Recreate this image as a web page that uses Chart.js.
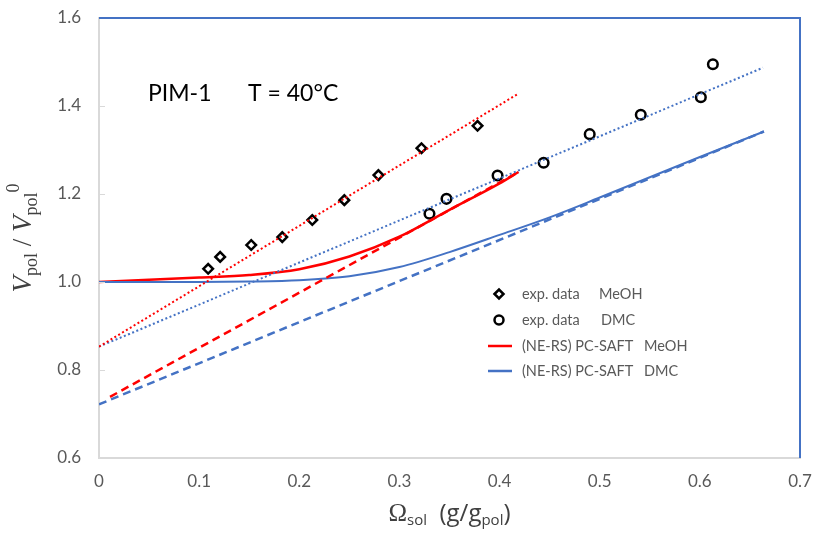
<!DOCTYPE html>
<html>
<head>
<meta charset="utf-8">
<script src="https://cdn.jsdelivr.net/npm/chart.js@4.4.0/dist/chart.umd.min.js"></script>
<style>
  body { margin: 0; background: #fff; }
  #wrap { width: 814px; height: 535px; position: relative; }
</style>
</head>
<body>
<div id="wrap"><canvas id="mycanvas"></canvas></div>
<script>
// experimental points
var meohX = [0.109, 0.121, 0.152, 0.183, 0.213, 0.245, 0.279, 0.322, 0.378];
var meohY = [1.030, 1.057, 1.084, 1.102, 1.141, 1.186, 1.243, 1.304, 1.355];
var dmcX = [0.330, 0.347, 0.398, 0.444, 0.490, 0.541, 0.601, 0.613];
var dmcY = [1.155, 1.189, 1.242, 1.271, 1.336, 1.380, 1.420, 1.495];

// PC-SAFT curves (solid)
var meohModelX = [0, 0.05, 0.1, 0.15, 0.2, 0.25, 0.3, 0.35, 0.4, 0.419];
var meohModelY = [1.0, 1.005, 1.010, 1.016, 1.029, 1.058, 1.103, 1.164, 1.224, 1.250];
var dmcModelX = [0, 0.1, 0.15, 0.2, 0.25, 0.3, 0.35, 0.4, 0.45, 0.5, 0.55, 0.6, 0.664];
var dmcModelY = [1.0, 1.0, 1.001, 1.004, 1.013, 1.034, 1.068, 1.107, 1.147, 1.192, 1.238, 1.284, 1.342];

// dashed lines
var meohDashX = [0.011, 0.419];
var meohDashY = [0.739, 1.250];
var dmcDashX = [0, 0.664];
var dmcDashY = [0.722, 1.342];

// dotted linear fits
var meohFitX = [0, 0.418];
var meohFitY = [0.853, 1.427];
var dmcFitX = [0, 0.663];
var dmcFitY = [0.853, 1.487];

var xTickLabels = ['0', '0.1', '0.2', '0.3', '0.4', '0.5', '0.6', '0.7'];
var yTickLabels = ['0.6', '0.8', '1.0', '1.2', '1.4', '1.6'];

var legendNames = ['exp. data', 'exp. data', '(NE-RS) PC-SAFT', '(NE-RS) PC-SAFT'];
var legendSolvents = ['MeOH', 'DMC', 'MeOH', 'DMC'];

var RED = '#ff0000';
var BLUE = '#4472c4';

function pts(xs, ys) {
    var out = [];
    for (var i in xs) {
        out.push({x: xs[i], y: ys[i]});
    }
    return out;
}

function drawRich(ctx, parts, x, y) {
    var total = 0;
    parts.forEach(function(p) { ctx.font = p[1]; total += ctx.measureText(p[0]).width; });
    var cx = x - total / 2;
    parts.forEach(function(p) {
        ctx.font = p[1];
        ctx.fillText(p[0], cx, y + p[2]);
        cx += ctx.measureText(p[0]).width;
    });
}

var extras = {
    id: 'extras',
    afterDraw: function(chart) {
        var ctx = chart.ctx;
        var a = chart.chartArea;
        var ys = chart.scales.y;
        ctx.save();

        // small inside ticks on the y axis
        ctx.strokeStyle = '#d9d9d9';
        ctx.lineWidth = 1;
        ys.ticks.forEach(function(t) {
            var py = Math.round(ys.getPixelForValue(t.value)) + 0.5;
            ctx.beginPath();
            ctx.moveTo(a.left, py);
            ctx.lineTo(a.left + 6, py);
            ctx.stroke();
        });

        // blue frame on top and right
        ctx.strokeStyle = BLUE;
        ctx.lineWidth = 2;
        ctx.beginPath();
        ctx.moveTo(a.left, a.top);
        ctx.lineTo(a.right, a.top);
        ctx.lineTo(a.right, a.bottom);
        ctx.stroke();

        // annotation
        ctx.fillStyle = '#000';
        ctx.font = '23px Lato';
        ctx.textBaseline = 'alphabetic';
        ctx.fillText('PIM-1', 148, 101);
        ctx.fillText('T = 40°C', 248, 101);

        // legend
        var rowsY = [294, 320, 346, 371];
        var solvX = [599, 601, 644, 644];
        ctx.font = '14.5px Lato';
        ctx.textBaseline = 'middle';
        for (var i = 0; i < 4; i++) {
            var yy = rowsY[i];
            ctx.lineWidth = 2.5;
            if (i === 0) {
                ctx.strokeStyle = '#000';
                ctx.beginPath();
                ctx.moveTo(494.5, yy); ctx.lineTo(499, yy - 4.5); ctx.lineTo(503.5, yy); ctx.lineTo(499, yy + 4.5); ctx.closePath();
                ctx.stroke();
            } else if (i === 1) {
                ctx.strokeStyle = '#000';
                ctx.beginPath();
                ctx.arc(499, yy, 4.5, 0, Math.PI * 2);
                ctx.stroke();
            } else {
                ctx.strokeStyle = i === 2 ? RED : BLUE;
                ctx.beginPath();
                ctx.moveTo(488, yy); ctx.lineTo(512, yy);
                ctx.stroke();
            }
            ctx.fillStyle = '#595959';
            ctx.fillText(legendNames[i], 522, yy);
            ctx.fillText(legendSolvents[i], solvX[i], yy);
        }

        // axis titles
        ctx.fillStyle = '#404040';
        ctx.textBaseline = 'alphabetic';
        drawRich(ctx, [
            ['\u03A9', '25px "Liberation Serif"', 0],
            ['sol', '15px "Open Sans"', 4],
            ['  (g/g', '24px "Open Sans"', 0],
            ['pol', '15px "Open Sans"', 4],
            [')', '24px "Open Sans"', 0]
        ], (a.left + a.right) / 2, 521);

        ctx.translate(31, (a.top + a.bottom) / 2);
        ctx.rotate(-Math.PI / 2);
        drawRich(ctx, [
            ['V', 'italic 27px "Liberation Serif"', 0],
            ['pol', '18px "Liberation Serif"', 6],
            [' / ', '27px "Liberation Serif"', 0],
            ['V', 'italic 27px "Liberation Serif"', 0],
            ['pol', '18px "Liberation Serif"', 6],
            ['0', '18px "Liberation Serif"', -12]
        ], 0, 0);
        ctx.restore();
    }
};

var lineDs = function(xs, ys, color, width, dash, tension) {
    return {
        data: pts(xs, ys),
        showLine: true,
        borderColor: color,
        borderWidth: width,
        borderDash: dash,
        pointRadius: 0,
        fill: false,
        tension: tension,
        cubicInterpolationMode: 'monotone'
    };
};

var chartdata = {
    datasets: [
        lineDs(meohFitX, meohFitY, RED, 2, [2, 2.5], 0),
        lineDs(dmcFitX, dmcFitY, BLUE, 2, [2, 2.5], 0),
        lineDs(meohDashX, meohDashY, RED, 2.5, [8, 5], 0),
        lineDs(dmcDashX, dmcDashY, BLUE, 2.5, [8, 5], 0),
        lineDs(dmcModelX, dmcModelY, BLUE, 2, [], 0.4),
        lineDs(meohModelX, meohModelY, RED, 2.5, [], 0.4),
        {
            label: 'exp. data MeOH',
            data: pts(meohX, meohY),
            pointStyle: 'rectRot',
            pointRadius: 4.8,
            pointBorderWidth: 2.5,
            borderColor: '#000',
            backgroundColor: '#fff'
        },
        {
            label: 'exp. data DMC',
            data: pts(dmcX, dmcY),
            pointStyle: 'circle',
            pointRadius: 4.8,
            pointBorderWidth: 2.5,
            borderColor: '#000',
            backgroundColor: '#fff'
        }
    ]
};

var ctx = document.getElementById('mycanvas');

var graph = new Chart(ctx, {
    type: 'scatter',
    data: chartdata,
    options: {
        responsive: true,
        maintainAspectRatio: false,
        animation: false,
        layout: { padding: { left: 0, top: 18, right: 14, bottom: 0 } },
        plugins: {
            legend: { display: false },
            tooltip: { enabled: false }
        },
        scales: {
            x: {
                type: 'linear',
                min: 0,
                max: 0.7,
                ticks: {
                    stepSize: 0.1,
                    color: '#595959',
                    font: { family: 'Lato', size: 17 },
                    padding: 13,
                    callback: function(v, i) { return xTickLabels[i]; }
                },
                grid: { display: false, drawTicks: false },
                border: { color: '#d9d9d9', width: 2 },
                afterFit: function(s) { s.height = 77; s.paddingLeft = 0; s.paddingRight = 0; }
            },
            y: {
                min: 0.6,
                max: 1.6,
                ticks: {
                    stepSize: 0.2,
                    color: '#595959',
                    font: { family: 'Lato', size: 17 },
                    padding: 18,
                    callback: function(v, i) { return yTickLabels[i]; }
                },
                grid: { display: false, drawTicks: false },
                border: { color: '#d9d9d9', width: 2 },
                afterFit: function(s) { s.width = 99; s.paddingTop = 0; s.paddingBottom = 0; }
            }
        }
    },
    plugins: [extras]
});
</script>
</body>
</html>
